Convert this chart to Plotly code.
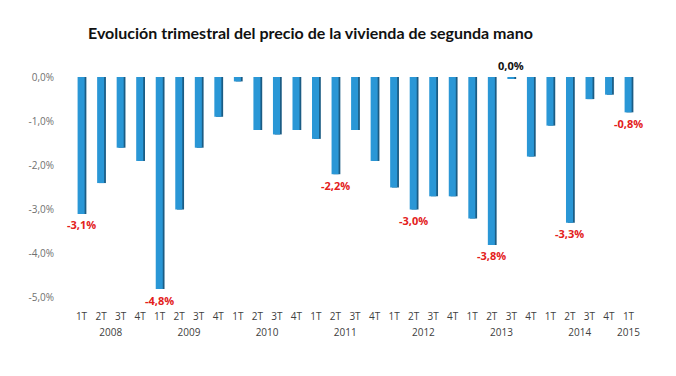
import plotly.graph_objects as go

years = ["2008"] * 4 + ["2009"] * 4 + ["2010"] * 4 + ["2011"] * 4 + ["2012"] * 4 + ["2013"] * 4 + ["2014"] * 4 + ["2015"]
quarters = ["1T", "2T", "3T", "4T"] * 7 + ["1T"]
values = [-3.1, -2.4, -1.6, -1.9,
          -4.8, -3.0, -1.6, -0.9,
          -0.1, -1.2, -1.3, -1.2,
          -1.4, -2.2, -1.2, -1.9,
          -2.5, -3.0, -2.7, -2.7,
          -3.2, -3.8, -0.03, -1.8,
          -1.1, -3.3, -0.5, -0.4,
          -0.8]

label_idx = [0, 4, 13, 17, 21, 22, 25, 28]
label_text = ["-3,1%", "-4,8%", "-2,2%", "-3,0%", "-3,8%", "0,0%", "-3,3%", "-0,8%"]
label_color = ["#E3201B", "#E3201B", "#E3201B", "#E3201B", "#E3201B", "#111111", "#E3201B", "#E3201B"]
label_below = [True, True, True, True, True, False, True, True]

ytick_vals = [0, -1, -2, -3, -4, -5]
ytick_text = ["0,0%", "-1,0%", "-2,0%", "-3,0%", "-4,0%", "-5,0%"]

fig = go.Figure()
# dark side face (3D look)
fig.add_trace(go.Bar(x=[years, quarters], y=values, width=0.36, offset=-0.11,
                     marker=dict(color="#1B5C84", line=dict(width=0)), hoverinfo="skip"))
# front face
fig.add_trace(go.Bar(x=[years, quarters], y=values, width=0.36, offset=-0.2,
                     marker=dict(color="#2A97D6", line=dict(width=0))))

for k, i in enumerate(label_idx):
    fig.add_annotation(
        x=i, y=values[i] if label_below[k] else 0, xref="x", yref="y",
        text="<b>" + label_text[k] + "</b>", showarrow=False,
        yshift=-11 if label_below[k] else 12,
        font=dict(color=label_color[k], size=11, family="Open Sans"))

fig.update_layout(
    width=676, height=376,
    margin=dict(l=65, r=31, t=77, b=67),
    plot_bgcolor="white", paper_bgcolor="white",
    barmode="overlay", showlegend=False,
    title=dict(text="<b>Evolución trimestral del precio de la vivienda de segunda mano</b>",
               x=88 / 676, xanchor="left", y=1 - 33 / 376, yanchor="middle",
               font=dict(family="Lato", size=16, color="#111111")),
)
fig.update_xaxes(type="multicategory", showdividers=False, showline=False, showgrid=False,
                 ticks="", automargin=False,
                 tickfont=dict(family="Open Sans", size=10, color="#404040"))
fig.update_yaxes(range=[-5.25, 0], tickvals=ytick_vals, ticktext=ytick_text, showgrid=False,
                 zeroline=False, showline=False, ticks="", ticklabelstandoff=10, automargin=False,
                 tickfont=dict(family="Open Sans", size=10, color="#707070"))

fig.write_html("out.html")
